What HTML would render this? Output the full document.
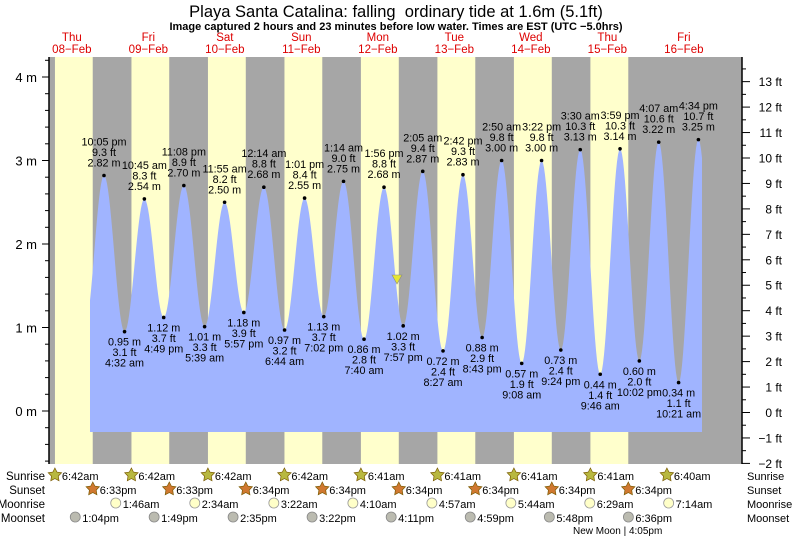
<!DOCTYPE html>
<html><head><meta charset="utf-8">
<style>
body{margin:0;background:#fff;}
svg{display:block;font-family:"Liberation Sans",sans-serif;}
</style></head>
<body>
<svg id="s" width="793" height="539" viewBox="0 0 793 539" xmlns="http://www.w3.org/2000/svg"></svg>
<script>
const S=document.getElementById('s');let h='';
const X0=33.6,PH=3.1875;
const X=t=>X0+t*PH;
const Y=m=>411-m*83.5;
const T=(d,hh,mm,pm)=>{let H=hh%12+(pm?12:0);return d*24+H+mm/60;};
h+=`<rect x="49" y="57" width="693" height="407" fill="#a6a6a6"/>`;
const sr=[[6,42],[6,42],[6,42],[6,42],[6,41],[6,41],[6,41],[6,41]];
const ss=[[6,33],[6,33],[6,34],[6,34],[6,34],[6,34],[6,34],[6,34]];
for(let d=0;d<8;d++){const a=X(T(d,sr[d][0],sr[d][1],0)),b=X(T(d,ss[d][0],ss[d][1],1));h+=`<rect x="${a}" y="57" width="${b-a}" height="407" fill="#ffffcc"/>`;}
const E=[[T(0,4,0,1),1.0],[T(0,10,5,1),2.82,'10:05 pm','9.3 ft'],[T(1,4,32,0),0.95,'4:32 am','3.1 ft'],[T(1,10,45,0),2.54,'10:45 am','8.3 ft'],[T(1,4,49,1),1.12,'4:49 pm','3.7 ft'],[T(1,11,8,1),2.70,'11:08 pm','8.9 ft'],[T(2,5,39,0),1.01,'5:39 am','3.3 ft'],[T(2,11,55,0),2.50,'11:55 am','8.2 ft'],[T(2,5,57,1),1.18,'5:57 pm','3.9 ft'],[T(3,12,14,0),2.68,'12:14 am','8.8 ft'],[T(3,6,44,0),0.97,'6:44 am','3.2 ft'],[T(3,1,1,1),2.55,'1:01 pm','8.4 ft'],[T(3,7,2,1),1.13,'7:02 pm','3.7 ft'],[T(4,1,14,0),2.75,'1:14 am','9.0 ft'],[T(4,7,40,0),0.86,'7:40 am','2.8 ft'],[T(4,1,56,1),2.68,'1:56 pm','8.8 ft'],[T(4,7,57,1),1.02,'7:57 pm','3.3 ft'],[T(5,2,5,0),2.87,'2:05 am','9.4 ft'],[T(5,8,27,0),0.72,'8:27 am','2.4 ft'],[T(5,2,42,1),2.83,'2:42 pm','9.3 ft'],[T(5,8,43,1),0.88,'8:43 pm','2.9 ft'],[T(6,2,50,0),3.00,'2:50 am','9.8 ft'],[T(6,9,8,0),0.57,'9:08 am','1.9 ft'],[T(6,3,22,1),3.00,'3:22 pm','9.8 ft'],[T(6,9,24,1),0.73,'9:24 pm','2.4 ft'],[T(7,3,30,0),3.13,'3:30 am','10.3 ft'],[T(7,9,46,0),0.44,'9:46 am','1.4 ft'],[T(7,3,59,1),3.14,'3:59 pm','10.3 ft'],[T(7,10,2,1),0.60,'10:02 pm','2.0 ft'],[T(8,4,7,0),3.22,'4:07 am','10.6 ft'],[T(8,10,21,0),0.34,'10:21 am','1.1 ft'],[T(8,4,34,1),3.25,'4:34 pm','10.7 ft'],[T(8,10,45,1),0.5]];
function lv(t){for(let i=0;i<E.length-1;i++){const[a,va]=E[i],[b,vb]=E[i+1];if(t>=a&&t<=b){const f=(1-Math.cos(Math.PI*(t-a)/(b-a)))/2;return va+(vb-va)*f;}}return 1;}
const yb=432;let p=`M90 ${yb}`;
for(let x=90;x<=702;x+=1){p+=` L${x} ${Y(lv((x-X0)/PH)).toFixed(1)}`;}
p+=` L702 ${yb} Z`;h+=`<path d="${p}" fill="#a0b4ff"/>`;
for(let i=1;i<E.length-1;i++){const[t,v,tm,ft]=E[i];const x=X(t),y=Y(v);h+=`<circle cx="${x}" cy="${y}" r="1.8" fill="#000"/>`;
const hi=v>2;const ls=hi?[tm,ft,v.toFixed(2)+' m']:[v.toFixed(2)+' m',ft,tm];
const y0=hi?y-30:y+14;ls.forEach((s,k)=>h+=`<text x="${x}" y="${y0+k*10.5}" font-size="10.8" text-anchor="middle">${s}</text>`);}
h+=`<polygon points="392,275 402,275 397,284" fill="#e6e632" stroke="#888" stroke-width="0.6"/>`;
h+=`<line x1="49" y1="57" x2="49" y2="464" stroke="#000" stroke-width="1.5"/><line x1="742" y1="57" x2="742" y2="464" stroke="#000" stroke-width="1.5"/>`;
for(let m=-0.6;m<=4.21;m+=0.2){const y=Y(m);if(y<57||y>464)continue;const maj=Math.abs(m-Math.round(m))<0.01;h+=`<line x1="${maj?42:45}" y1="${y}" x2="49" y2="${y}" stroke="#000"/>`;if(maj)h+=`<text x="37" y="${y+5}" font-size="13" text-anchor="end">${Math.round(m)} m</text>`;}
for(let f=-2;f<=13.6;f+=0.5){const y=Y(f*0.3048)+1.5;if(y<57||y>465)continue;const maj=Number.isInteger(f);h+=`<line x1="742" y1="${y}" x2="${maj?750:746}" y2="${y}" stroke="#000"/>`;if(maj)h+=`<text x="782" y="${y+4.5}" font-size="12" text-anchor="end">${f<0?'\u2212'+(-f):f} ft</text>`;}
h+=`<text x="396" y="17" font-size="16.5" text-anchor="middle" style="white-space:pre">Playa Santa Catalina: falling\u00a0 ordinary tide at 1.6m (5.1ft)</text>`;
h+=`<text x="396" y="30" font-size="11" font-weight="bold" text-anchor="middle">Image captured 2 hours and 23 minutes before low water. Times are EST (UTC −5.0hrs)</text>`;
const dn=['Thu','Fri','Sat','Sun','Mon','Tue','Wed','Thu','Fri'];
for(let d=0;d<9;d++){const x=X(d*24+12);h+=`<text x="${x}" y="41" font-size="11.5" fill="#d00" text-anchor="middle">${dn[d]}</text><text x="${x}" y="53" font-size="11.5" fill="#d00" text-anchor="middle">${String(8+d).padStart(2,'0')}\u2212Feb</text>`;}
const rows=[['Sunrise',476],['Sunset',490],['Moonrise',504],['Moonset',518]];
rows.forEach(([n,y])=>{h+=`<text x="45" y="${y+4}" font-size="11.5" text-anchor="end">${n}</text><text x="747" y="${y+4}" font-size="11">${n}</text>`;});
function star(cx,cy,c){let pts=[];for(let k=0;k<10;k++){const r=k%2?3.6:7,a=-Math.PI/2+k*Math.PI/5;pts.push((cx+r*Math.cos(a)).toFixed(1)+','+(cy+r*Math.sin(a)).toFixed(1));}return `<polygon points="${pts.join(' ')}" fill="${c}" stroke="#7a5a00" stroke-width="0.7"/>`;}
const srs=['6:42am','6:42am','6:42am','6:42am','6:41am','6:41am','6:41am','6:41am','6:40am'];
for(let d=0;d<9;d++){const x=X(T(d,6,41,0));h+=star(x,475,'#b8b840')+`<text x="${x+7}" y="480" font-size="11">${srs[d]}</text>`;}
const sss=['6:33pm','6:33pm','6:34pm','6:34pm','6:34pm','6:34pm','6:34pm','6:34pm'];
for(let d=0;d<8;d++){const x=X(T(d,6,34,1));h+=star(x,489,'#d07830')+`<text x="${x+7}" y="494" font-size="11">${sss[d]}</text>`;}
const mr=[[1,1,46],[2,2,34],[3,3,22],[4,4,10],[5,4,57],[6,5,44],[7,6,29],[8,7,14]];
mr.forEach(([d,a,b])=>{const x=X(T(d,a,b,0));h+=`<circle cx="${x}" cy="503" r="5" fill="#ffffc8" stroke="#999" stroke-width="0.8"/><text x="${x+7}" y="508" font-size="11">${a}:${String(b).padStart(2,'0')}am</text>`;});
const ms=[[0,1,4],[1,1,49],[2,2,35],[3,3,22],[4,4,11],[5,4,59],[6,5,48],[7,6,36]];
ms.forEach(([d,a,b])=>{const x=X(T(d,a,b,1));h+=`<circle cx="${x}" cy="517" r="5" fill="#bbbbb0" stroke="#888" stroke-width="0.8"/><text x="${x+7}" y="522" font-size="11">${a}:${String(b).padStart(2,'0')}pm</text>`;});
h+=`<text x="573" y="534" font-size="10">New Moon | 4:05pm</text>`;
S.innerHTML=h;
</script>
</body></html>
